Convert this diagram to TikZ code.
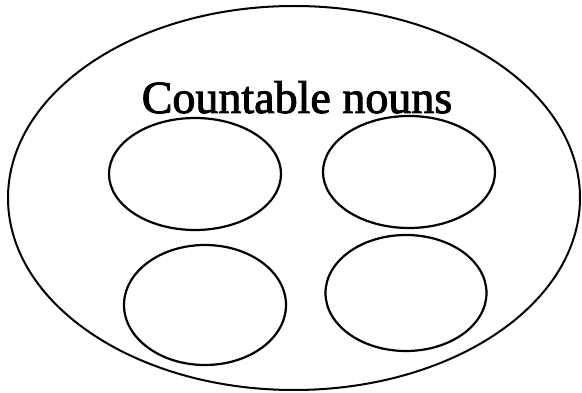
\documentclass[tikz,border=0pt]{standalone}
\usepackage{fontspec}
\setmainfont{Liberation Serif}
\newfontfamily\heavyserif[FakeBold=2]{Liberation Serif}
\usetikzlibrary{shapes.geometric}
\begin{document}
\begin{tikzpicture}[x=1pt,y=-1pt,
  outer/.style={draw=black, line width=2pt, ellipse, inner sep=0pt, minimum width=572pt, minimum height=384pt},
  inner/.style={draw=black, line width=2.2pt, ellipse, inner sep=0pt, minimum width=172pt, minimum height=112pt},
  label/.style={font=\heavyserif\fontsize{46}{48}\selectfont, text=black, inner sep=0pt, anchor=base}]
\useasboundingbox (0,0) rectangle (582,393);
\node[outer] (big) at (294,198) {};
\node[label] (title) at (297,113) {Countable nouns};
\node[inner] (tl) at (195,174) {};
\node[inner] (tr) at (409,172) {};
\node[inner, minimum width=162pt, minimum height=120pt] (bl) at (205,305) {};
\node[inner, minimum width=161pt, minimum height=116pt] (br) at (406,293) {};
\end{tikzpicture}
\end{document}
